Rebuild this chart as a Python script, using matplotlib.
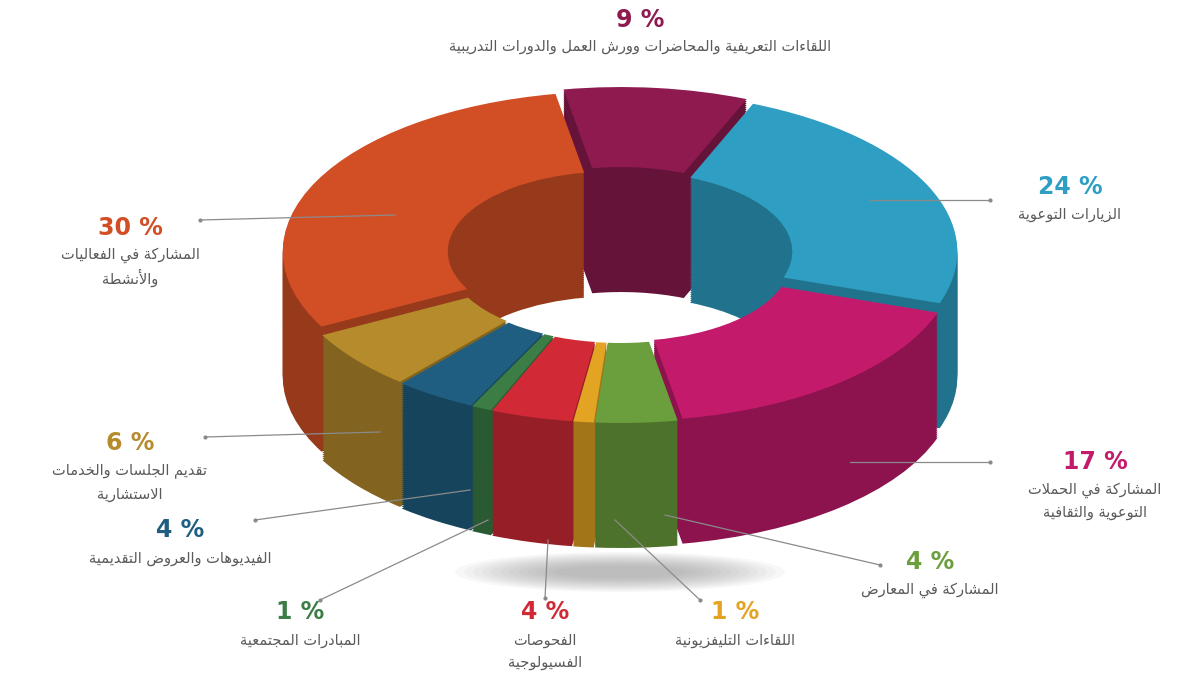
import numpy as np
import matplotlib
matplotlib.use("Agg")
import matplotlib.pyplot as plt
from matplotlib.patches import Wedge, Ellipse
from matplotlib.transforms import Affine2D
from matplotlib.colors import to_rgb

# --- data (clockwise from top) ---
values = [9, 24, 17, 4, 1, 4, 1, 4, 6, 30]
colors = ["#8e1a50", "#2e9fc2", "#c41a6c", "#6b9e3c", "#e3a323", "#d12a36",
          "#3b7d45", "#1f5e80", "#b58b2c", "#d24f26"]
labels = [
    ["اللقاءات التعريفية والمحاضرات وورش العمل والدورات التدريبية"],
    ["الزيارات التوعوية"],
    ["المشاركة في الحملات", "التوعوية والثقافية"],
    ["المشاركة في المعارض"],
    ["اللقاءات التليفزيونية"],
    ["الفحوصات", "الفسيولوجية"],
    ["المبادرات المجتمعية"],
    ["الفيديوهات والعروض التقديمية"],
    ["تقديم الجلسات والخدمات", "الاستشارية"],
    ["المشاركة في الفعاليات", "والأنشطة"],
]

# --- minimal Arabic shaping (presentation forms) + RTL ---
FORMS = {"ء": (0xFE80, 1), "آ": (0xFE81, 2), "أ": (0xFE83, 2), "ؤ": (0xFE85, 2),
         "إ": (0xFE87, 2), "ئ": (0xFE89, 4), "ا": (0xFE8D, 2), "ب": (0xFE8F, 4),
         "ة": (0xFE93, 2), "ت": (0xFE95, 4), "ث": (0xFE99, 4), "ج": (0xFE9D, 4),
         "ح": (0xFEA1, 4), "خ": (0xFEA5, 4), "د": (0xFEA9, 2), "ذ": (0xFEAB, 2),
         "ر": (0xFEAD, 2), "ز": (0xFEAF, 2), "س": (0xFEB1, 4), "ش": (0xFEB5, 4),
         "ص": (0xFEB9, 4), "ض": (0xFEBD, 4), "ط": (0xFEC1, 4), "ظ": (0xFEC5, 4),
         "ع": (0xFEC9, 4), "غ": (0xFECD, 4), "ف": (0xFED1, 4), "ق": (0xFED5, 4),
         "ك": (0xFED9, 4), "ل": (0xFEDD, 4), "م": (0xFEE1, 4), "ن": (0xFEE5, 4),
         "ه": (0xFEE9, 4), "و": (0xFEED, 2), "ى": (0xFEEF, 2), "ي": (0xFEF1, 4)}
LAMALEF = {"آ": 0xFEF5, "أ": 0xFEF7, "إ": 0xFEF9, "ا": 0xFEFB}


def shape(s):
    out = []
    i = 0
    while i < len(s):
        c = s[i]
        if c not in FORMS:
            out.append(c); i += 1; continue
        prev = s[i - 1] if i > 0 else ""
        jp = prev in FORMS and FORMS[prev][1] == 4
        if c == "ل" and i + 1 < len(s) and s[i + 1] in LAMALEF:
            out.append(chr(LAMALEF[s[i + 1]] + (1 if jp else 0))); i += 2; continue
        nxt = s[i + 1] if i + 1 < len(s) else ""
        base, n = FORMS[c]
        jn = nxt in FORMS and n == 4
        if n == 1:
            out.append(chr(base))
        elif n == 2:
            out.append(chr(base + (1 if jp else 0)))
        else:
            out.append(chr(base + (3 if jp and jn else 1 if jp else 2 if jn else 0)))
        i += 1
    return "".join(out)[::-1]


plt.rcParams["font.family"] = ["DejaVu Sans"]
fig = plt.figure(figsize=(12, 7), dpi=100)
ax = fig.add_axes([0, 0, 1, 1])
ax.set_xlim(0, 1200); ax.set_ylim(0, 700); ax.axis("off")

cx, cy, rx, ry, thick, explode = 620, 255, 330, 160, 125, 8
Y = lambda y: 700 - y

# shadow
for k in range(12):
    ax.add_patch(Ellipse((cx, Y(572)), 330 - k * 18, 40 - k * 2.5, color="#888888", alpha=0.06, lw=0))

angles = []
a = 100.0
for v in values:
    angles.append((a - v * 3.6, a)); a -= v * 3.6

for off in np.linspace(thick, 0, 64):
    for (t1, t2), col in zip(angles, colors):
        mid = np.radians((t1 + t2) / 2)
        dx, dy = explode * np.cos(mid), explode * np.sin(mid)
        c = to_rgb(col)
        if off > 0:
            c = tuple(0.72 * x for x in c)
        tr = Affine2D().scale(rx, ry).translate(cx + dx, Y(cy) - off + dy) + ax.transData
        w = Wedge((0, 0), 1.0, t1, t2, width=0.5, facecolor=c, edgecolor="none", transform=tr)
        ax.add_patch(w)

# label positions: (pct xy, label xy, line start, line end)
pos = [
    ((640, 20), (640, 47), None, None),
    ((1070, 187), (1070, 214), (870, 200), (990, 200)),
    ((1095, 462), (1095, 490), (850, 462), (990, 462)),
    ((930, 562), (930, 590), (665, 515), (880, 565)),
    ((735, 612), (735, 640), (615, 520), (700, 600)),
    ((545, 612), (545, 640), (548, 540), (545, 598)),
    ((300, 612), (300, 640), (488, 520), (320, 600)),
    ((180, 530), (180, 558), (470, 490), (255, 520)),
    ((130, 443), (130, 471), (380, 432), (205, 437)),
    ((130, 228), (130, 255), (395, 215), (200, 220)),
]
for v, col, lab, (pp, lp, l0, l1) in zip(values, colors, labels, pos):
    ax.text(pp[0], Y(pp[1]), f"{v} %", color=col, fontsize=17, fontweight="bold",
            ha="center", va="center")
    for j, line in enumerate(lab):
        ax.text(lp[0], Y(lp[1] + j * 23), shape(line), color="#5a5a5a", fontsize=10.5,
                ha="center", va="center")
    if l0:
        ax.plot([l0[0], l1[0]], [Y(l0[1]), Y(l1[1])], color="#8a8a8a", lw=0.9)
        ax.plot([l1[0]], [Y(l1[1])], marker="o", ms=2, color="#8a8a8a")

fig.savefig("out.png", dpi=100)
